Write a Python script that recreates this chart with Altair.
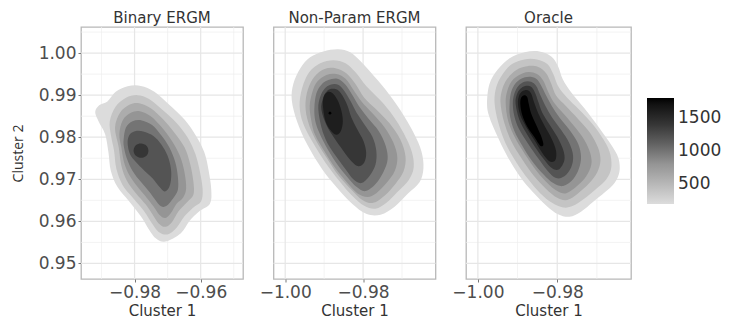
import altair as alt
import pandas as pd

TITLES = ["Binary ERGM", "Non-Param ERGM", "Oracle"]
LEVELS = [200, 400, 600, 800, 1000, 1200, 1400, 1600, 1800]

Y_DOMAIN = [0.9463, 1.0062]
X_DOMAIN_BIN = [-0.9962, -0.9472]
X_DOMAIN_NP = [-1.0030, -0.9614]
X_DOMAIN_OR = [-1.0030, -0.9614]

X_TICKS_BIN = [-0.98, -0.96]
X_MINOR_BIN = [-0.99, -0.97, -0.95]
X_TICKS_NP = [-1.00, -0.98]
X_MINOR_NP = [-0.99, -0.97]
Y_TICKS = [0.95, 0.96, 0.97, 0.98, 0.99, 1.00]
Y_MINOR = [0.955, 0.965, 0.975, 0.985, 0.995, 1.005]
LEGEND_TICKS = [500, 1000, 1500]

# ---- Binary ERGM contour polygons (x = Cluster 1, y = Cluster 2) ----
BIN_200 = [(-0.9919, 0.9860), (-0.9907, 0.9876), (-0.9882, 0.9885), (-0.9857, 0.9908), (-0.9821, 0.9921),
           (-0.9781, 0.9922), (-0.9740, 0.9908), (-0.9695, 0.9877), (-0.9649, 0.9842), (-0.9614, 0.9803),
           (-0.9589, 0.9764), (-0.9576, 0.9721), (-0.9568, 0.9675), (-0.9572, 0.9642), (-0.9604, 0.9624),
           (-0.9634, 0.9601), (-0.9660, 0.9572), (-0.9707, 0.9552), (-0.9735, 0.9559), (-0.9756, 0.9580),
           (-0.9781, 0.9612), (-0.9816, 0.9647), (-0.9852, 0.9682), (-0.9872, 0.9721), (-0.9879, 0.9764),
           (-0.9889, 0.9807), (-0.9909, 0.9838)]
BIN_400 = [(-0.9875, 0.9838), (-0.9857, 0.9873), (-0.9826, 0.9894), (-0.9791, 0.9900), (-0.9756, 0.9891),
           (-0.9715, 0.9865), (-0.9673, 0.9834), (-0.9639, 0.9799), (-0.9616, 0.9760), (-0.9602, 0.9717),
           (-0.9594, 0.9675), (-0.9599, 0.9647), (-0.9624, 0.9632), (-0.9649, 0.9612), (-0.9673, 0.9585),
           (-0.9700, 0.9569), (-0.9727, 0.9575), (-0.9747, 0.9595), (-0.9771, 0.9624), (-0.9804, 0.9655),
           (-0.9836, 0.9686), (-0.9855, 0.9725), (-0.9862, 0.9768), (-0.9871, 0.9803)]
BIN_600 = [(-0.9859, 0.9823), (-0.9844, 0.9858), (-0.9816, 0.9877), (-0.9786, 0.9881), (-0.9751, 0.9869),
           (-0.9713, 0.9842), (-0.9680, 0.9811), (-0.9649, 0.9776), (-0.9632, 0.9737), (-0.9622, 0.9694),
           (-0.9622, 0.9663), (-0.9642, 0.9645), (-0.9667, 0.9624), (-0.9687, 0.9598), (-0.9707, 0.9587),
           (-0.9727, 0.9595), (-0.9745, 0.9616), (-0.9766, 0.9640), (-0.9796, 0.9667), (-0.9824, 0.9698),
           (-0.9840, 0.9733), (-0.9848, 0.9776)]
BIN_800 = [(-0.9846, 0.9807), (-0.9836, 0.9840), (-0.9811, 0.9858), (-0.9784, 0.9862), (-0.9751, 0.9850),
           (-0.9717, 0.9823), (-0.9687, 0.9791), (-0.9663, 0.9756), (-0.9649, 0.9717), (-0.9644, 0.9679),
           (-0.9653, 0.9657), (-0.9673, 0.9642), (-0.9690, 0.9620), (-0.9707, 0.9608), (-0.9725, 0.9616),
           (-0.9743, 0.9636), (-0.9764, 0.9657), (-0.9791, 0.9682), (-0.9816, 0.9710), (-0.9832, 0.9741),
           (-0.9840, 0.9776)]
BIN_1000 = [(-0.9833, 0.9795), (-0.9826, 0.9823), (-0.9806, 0.9838), (-0.9778, 0.9840), (-0.9747, 0.9829),
            (-0.9720, 0.9805), (-0.9695, 0.9776), (-0.9677, 0.9741), (-0.9669, 0.9706), (-0.9669, 0.9675),
            (-0.9683, 0.9655), (-0.9703, 0.9637), (-0.9720, 0.9636), (-0.9737, 0.9651), (-0.9756, 0.9671),
            (-0.9781, 0.9694), (-0.9806, 0.9720), (-0.9823, 0.9749), (-0.9832, 0.9776)]
BIN_1200 = [(-0.9821, 0.9788), (-0.9814, 0.9807), (-0.9796, 0.9815), (-0.9771, 0.9813), (-0.9743, 0.9803),
            (-0.9720, 0.9784), (-0.9700, 0.9756), (-0.9690, 0.9725), (-0.9690, 0.9698), (-0.9697, 0.9679),
            (-0.9710, 0.9671), (-0.9725, 0.9682), (-0.9745, 0.9702), (-0.9771, 0.9721), (-0.9796, 0.9741),
            (-0.9814, 0.9760)]
BIN_1400 = [(-0.9803, 0.9768), (-0.9796, 0.9781), (-0.9780, 0.9785), (-0.9764, 0.9780), (-0.9758, 0.9768),
            (-0.9764, 0.9756), (-0.9780, 0.9751), (-0.9796, 0.9756)]

# ---- Non-Param ERGM contour polygons ----
NP_200 = [(-0.9983, 0.9887), (-0.9979, 0.9927), (-0.9961, 0.9964), (-0.9936, 0.9990), (-0.9902, 1.0004),
          (-0.9864, 1.0009), (-0.9833, 1.0002), (-0.9807, 0.9981), (-0.9781, 0.9955), (-0.9742, 0.9913),
          (-0.9704, 0.9864), (-0.9670, 0.9810), (-0.9650, 0.9766), (-0.9645, 0.9726), (-0.9655, 0.9693),
          (-0.9686, 0.9665), (-0.9719, 0.9635), (-0.9755, 0.9616), (-0.9792, 0.9618), (-0.9828, 0.9642),
          (-0.9864, 0.9677), (-0.9905, 0.9724), (-0.9943, 0.9782), (-0.9969, 0.9836)]
NP_400 = [(-0.9963, 0.9875), (-0.9956, 0.9918), (-0.9938, 0.9955), (-0.9910, 0.9976), (-0.9876, 0.9983),
          (-0.9845, 0.9976), (-0.9820, 0.9955), (-0.9792, 0.9922), (-0.9755, 0.9887), (-0.9724, 0.9852),
          (-0.9696, 0.9810), (-0.9675, 0.9766), (-0.9670, 0.9728), (-0.9683, 0.9698), (-0.9712, 0.9670),
          (-0.9740, 0.9644), (-0.9768, 0.9630), (-0.9797, 0.9637), (-0.9828, 0.9661), (-0.9861, 0.9696),
          (-0.9897, 0.9740), (-0.9930, 0.9789), (-0.9954, 0.9833)]
NP_600 = [(-0.9948, 0.9875), (-0.9942, 0.9913), (-0.9925, 0.9944), (-0.9899, 0.9962), (-0.9871, 0.9964),
          (-0.9843, 0.9952), (-0.9820, 0.9927), (-0.9797, 0.9894), (-0.9766, 0.9866), (-0.9732, 0.9833),
          (-0.9704, 0.9794), (-0.9691, 0.9754), (-0.9696, 0.9719), (-0.9717, 0.9689), (-0.9745, 0.9661),
          (-0.9774, 0.9644), (-0.9802, 0.9651), (-0.9830, 0.9675), (-0.9864, 0.9710), (-0.9894, 0.9752),
          (-0.9923, 0.9796), (-0.9941, 0.9836)]
NP_800 = [(-0.9937, 0.9875), (-0.9930, 0.9908), (-0.9918, 0.9932), (-0.9894, 0.9948), (-0.9869, 0.9950),
          (-0.9845, 0.9939), (-0.9825, 0.9913), (-0.9804, 0.9885), (-0.9776, 0.9857), (-0.9745, 0.9824),
          (-0.9722, 0.9787), (-0.9712, 0.9752), (-0.9719, 0.9719), (-0.9740, 0.9691), (-0.9766, 0.9667),
          (-0.9789, 0.9658), (-0.9815, 0.9667), (-0.9840, 0.9691), (-0.9871, 0.9726), (-0.9899, 0.9766),
          (-0.9923, 0.9805), (-0.9933, 0.9840)]
NP_1000 = [(-0.9925, 0.9871), (-0.9920, 0.9904), (-0.9907, 0.9925), (-0.9889, 0.9936), (-0.9866, 0.9939),
           (-0.9845, 0.9925), (-0.9828, 0.9901), (-0.9810, 0.9873), (-0.9787, 0.9845), (-0.9760, 0.9815),
           (-0.9742, 0.9780), (-0.9737, 0.9747), (-0.9748, 0.9717), (-0.9768, 0.9689), (-0.9794, 0.9672),
           (-0.9817, 0.9682), (-0.9840, 0.9705), (-0.9866, 0.9735), (-0.9892, 0.9773), (-0.9912, 0.9810),
           (-0.9923, 0.9840)]
NP_1200 = [(-0.9915, 0.9868), (-0.9910, 0.9896), (-0.9899, 0.9915), (-0.9884, 0.9925), (-0.9864, 0.9925),
           (-0.9848, 0.9910), (-0.9833, 0.9887), (-0.9817, 0.9859), (-0.9797, 0.9831), (-0.9776, 0.9801),
           (-0.9766, 0.9768), (-0.9768, 0.9735), (-0.9784, 0.9707), (-0.9804, 0.9691), (-0.9825, 0.9700),
           (-0.9845, 0.9724), (-0.9869, 0.9754), (-0.9892, 0.9787), (-0.9907, 0.9824)]
NP_1400 = [(-0.9907, 0.9866), (-0.9903, 0.9892), (-0.9894, 0.9908), (-0.9882, 0.9915), (-0.9866, 0.9913),
           (-0.9853, 0.9899), (-0.9840, 0.9875), (-0.9830, 0.9847), (-0.9815, 0.9819), (-0.9799, 0.9791),
           (-0.9792, 0.9763), (-0.9797, 0.9740), (-0.9812, 0.9731), (-0.9830, 0.9743), (-0.9851, 0.9768),
           (-0.9874, 0.9798), (-0.9894, 0.9829)]
NP_1600 = [(-0.9903, 0.9875), (-0.9901, 0.9896), (-0.9892, 0.9907), (-0.9879, 0.9905), (-0.9866, 0.9889),
           (-0.9856, 0.9864), (-0.9852, 0.9838), (-0.9857, 0.9815), (-0.9869, 0.9806), (-0.9884, 0.9817),
           (-0.9897, 0.9840)]
NP_1800 = [(-0.9889, 0.9857), (-0.9885, 0.9861), (-0.9881, 0.9857), (-0.9885, 0.9854)]

# ---- Oracle contour polygons ----
OR_200 = [(-0.9977, 0.9879), (-0.9971, 0.9926), (-0.9950, 0.9961), (-0.9920, 0.9988), (-0.9882, 1.0002),
          (-0.9845, 1.0004), (-0.9815, 0.9992), (-0.9798, 0.9969), (-0.9786, 0.9938), (-0.9765, 0.9907),
          (-0.9731, 0.9868), (-0.9693, 0.9821), (-0.9664, 0.9782), (-0.9646, 0.9751), (-0.9643, 0.9719),
          (-0.9655, 0.9692), (-0.9680, 0.9669), (-0.9710, 0.9646), (-0.9740, 0.9623), (-0.9769, 0.9611),
          (-0.9798, 0.9617), (-0.9828, 0.9638), (-0.9861, 0.9669), (-0.9895, 0.9708), (-0.9926, 0.9755),
          (-0.9954, 0.9809), (-0.9971, 0.9848)]
OR_400 = [(-0.9958, 0.9882), (-0.9954, 0.9918), (-0.9939, 0.9948), (-0.9914, 0.9974), (-0.9883, 0.9985),
          (-0.9851, 0.9985), (-0.9825, 0.9974), (-0.9810, 0.9950), (-0.9798, 0.9922), (-0.9775, 0.9894),
          (-0.9745, 0.9866), (-0.9709, 0.9829), (-0.9681, 0.9791), (-0.9666, 0.9759), (-0.9664, 0.9726),
          (-0.9676, 0.9700), (-0.9702, 0.9677), (-0.9732, 0.9654), (-0.9760, 0.9637), (-0.9785, 0.9633),
          (-0.9813, 0.9644), (-0.9843, 0.9667), (-0.9873, 0.9700), (-0.9903, 0.9740), (-0.9931, 0.9787),
          (-0.9949, 0.9836)]
OR_600 = [(-0.9943, 0.9882), (-0.9939, 0.9913), (-0.9926, 0.9939), (-0.9903, 0.9960), (-0.9876, 0.9969),
          (-0.9848, 0.9967), (-0.9828, 0.9952), (-0.9815, 0.9927), (-0.9803, 0.9899), (-0.9777, 0.9873),
          (-0.9747, 0.9843), (-0.9717, 0.9810), (-0.9697, 0.9775), (-0.9691, 0.9745), (-0.9699, 0.9717),
          (-0.9719, 0.9691), (-0.9747, 0.9667), (-0.9775, 0.9651), (-0.9800, 0.9656), (-0.9828, 0.9677),
          (-0.9858, 0.9707), (-0.9888, 0.9747), (-0.9916, 0.9791), (-0.9934, 0.9836)]
OR_800 = [(-0.9930, 0.9882), (-0.9926, 0.9910), (-0.9914, 0.9934), (-0.9896, 0.9948), (-0.9873, 0.9955),
          (-0.9851, 0.9950), (-0.9835, 0.9934), (-0.9823, 0.9908), (-0.9808, 0.9882), (-0.9785, 0.9857),
          (-0.9757, 0.9826), (-0.9732, 0.9794), (-0.9717, 0.9763), (-0.9714, 0.9735), (-0.9727, 0.9707),
          (-0.9750, 0.9684), (-0.9777, 0.9667), (-0.9800, 0.9672), (-0.9825, 0.9691), (-0.9853, 0.9721),
          (-0.9881, 0.9759), (-0.9906, 0.9798), (-0.9924, 0.9840)]
OR_1000 = [(-0.9920, 0.9882), (-0.9916, 0.9908), (-0.9906, 0.9927), (-0.9891, 0.9939), (-0.9871, 0.9944),
           (-0.9853, 0.9939), (-0.9840, 0.9922), (-0.9828, 0.9899), (-0.9813, 0.9873), (-0.9793, 0.9845),
           (-0.9767, 0.9815), (-0.9747, 0.9784), (-0.9740, 0.9754), (-0.9745, 0.9726), (-0.9760, 0.9700),
           (-0.9785, 0.9684), (-0.9810, 0.9691), (-0.9835, 0.9712), (-0.9863, 0.9743), (-0.9888, 0.9780),
           (-0.9908, 0.9815), (-0.9919, 0.9850)]
OR_1200 = [(-0.9912, 0.9880), (-0.9908, 0.9904), (-0.9898, 0.9922), (-0.9883, 0.9932), (-0.9866, 0.9932),
           (-0.9853, 0.9922), (-0.9843, 0.9901), (-0.9830, 0.9875), (-0.9813, 0.9847), (-0.9790, 0.9817),
           (-0.9770, 0.9787), (-0.9760, 0.9756), (-0.9765, 0.9728), (-0.9782, 0.9707), (-0.9803, 0.9703),
           (-0.9825, 0.9721), (-0.9848, 0.9750), (-0.9873, 0.9784), (-0.9896, 0.9819), (-0.9908, 0.9850)]
OR_1400 = [(-0.9905, 0.9880), (-0.9902, 0.9901), (-0.9893, 0.9915), (-0.9881, 0.9922), (-0.9866, 0.9920),
           (-0.9856, 0.9906), (-0.9848, 0.9885), (-0.9838, 0.9859), (-0.9820, 0.9831), (-0.9800, 0.9801),
           (-0.9785, 0.9770), (-0.9782, 0.9745), (-0.9795, 0.9724), (-0.9813, 0.9726), (-0.9833, 0.9747),
           (-0.9856, 0.9777), (-0.9878, 0.9810), (-0.9896, 0.9843)]
OR_1600 = [(-0.9899, 0.9880), (-0.9896, 0.9899), (-0.9888, 0.9909), (-0.9876, 0.9912), (-0.9866, 0.9904),
           (-0.9858, 0.9882), (-0.9848, 0.9857), (-0.9833, 0.9829), (-0.9815, 0.9798), (-0.9803, 0.9768),
           (-0.9805, 0.9745), (-0.9820, 0.9743), (-0.9838, 0.9763), (-0.9858, 0.9794), (-0.9878, 0.9824),
           (-0.9893, 0.9852)]
OR_1800 = [(-0.9893, 0.9878), (-0.9891, 0.9894), (-0.9883, 0.9900), (-0.9876, 0.9896), (-0.9872, 0.9880),
           (-0.9866, 0.9857), (-0.9853, 0.9829), (-0.9840, 0.9801), (-0.9835, 0.9782), (-0.9843, 0.9780),
           (-0.9858, 0.9801), (-0.9876, 0.9826), (-0.9888, 0.9852)]

BIN = [(200, BIN_200), (400, BIN_400), (600, BIN_600), (800, BIN_800), (1000, BIN_1000),
       (1200, BIN_1200), (1400, BIN_1400)]
NP = [(200, NP_200), (400, NP_400), (600, NP_600), (800, NP_800), (1000, NP_1000),
      (1200, NP_1200), (1400, NP_1400), (1600, NP_1600), (1800, NP_1800)]
ORC = [(200, OR_200), (400, OR_400), (600, OR_600), (800, OR_800), (1000, OR_1000),
       (1200, OR_1200), (1400, OR_1400), (1600, OR_1600), (1800, OR_1800)]

CSCALE = alt.Scale(domain=[200, 800, 1400, 1800],
                   range=["#dcdcdc", "#959595", "#363636", "#000000"])
LEGEND = alt.Legend(title=None, orient="none", direction="vertical", legendX=566, legendY=71,
                    gradientLength=106, gradientThickness=27, values=LEGEND_TICKS, format="d",
                    labelFont="DejaVu Sans", labelFontSize=17, labelColor="#333333", labelOffset=4,
                    gradientStrokeWidth=0)

PANEL_H = 252


def frame(contours):
    rows = []
    for level, pts in contours:
        for i, (x, y) in enumerate(pts):
            rows.append({"level": level, "i": i, "x": x, "y": y})
    return pd.DataFrame(rows)


def panel(title, contours, xdom, xticks, xminor, width, first):
    xs = alt.Scale(domain=xdom, nice=False, zero=False)
    ys = alt.Scale(domain=Y_DOMAIN, nice=False, zero=False)
    X = alt.X("x:Q", scale=xs, axis=alt.Axis(values=xticks, format=".2f", title="Cluster 1"))
    if first:
        Y = alt.Y("y:Q", scale=ys, axis=alt.Axis(values=Y_TICKS, format=".2f", title="Cluster 2",
                                                  titleFont="Open Sans", titleFontSize=14,
                                                  titlePadding=13))
    else:
        Y = alt.Y("y:Q", scale=ys, axis=None)
    layers = [
        alt.Chart(pd.DataFrame({"x": xminor})).mark_rule(color="#eeeeee", strokeWidth=0.7).encode(x=X),
        alt.Chart(pd.DataFrame({"y": Y_MINOR})).mark_rule(color="#eeeeee", strokeWidth=0.7).encode(y=Y),
        alt.Chart(pd.DataFrame({"x": xticks})).mark_rule(color="#e6e6e6", strokeWidth=1.2).encode(x=X),
        alt.Chart(pd.DataFrame({"y": Y_TICKS})).mark_rule(color="#e6e6e6", strokeWidth=1.2).encode(y=Y),
    ]
    df = frame(contours)
    for level, _ in contours:
        sub = df[df["level"] == level]
        layers.append(
            alt.Chart(sub).mark_line(filled=True, interpolate="cardinal-closed").encode(
                x=X, y=Y, order=alt.Order("i:Q"),
                color=alt.Color("level:Q", scale=CSCALE, legend=LEGEND),
            )
        )
    return alt.layer(*layers).properties(
        width=width, height=PANEL_H,
        title=alt.TitleParams(title, font="DejaVu Sans", fontSize=15, fontWeight="normal",
                              color="#333333", offset=0, anchor="middle"),
    )


p1 = panel(TITLES[0], BIN, X_DOMAIN_BIN, X_TICKS_BIN, X_MINOR_BIN, 162, True)
p2 = panel(TITLES[1], NP, X_DOMAIN_NP, X_TICKS_NP, X_MINOR_NP, 162, False)
p3 = panel(TITLES[2], ORC, X_DOMAIN_OR, X_TICKS_NP, X_MINOR_NP, 165, False)

chart = alt.hconcat(p1, p2, p3, spacing=30.5, bounds="flush").resolve_scale(
    x="independent", y="independent", color="shared"
).properties(
    padding={"left": 2, "top": 2, "right": 0, "bottom": 0}
).configure_view(
    stroke="#b8b8b8", strokeWidth=1.3
).configure_axis(
    labelFont="DejaVu Sans", labelFontSize=17, labelColor="#4d4d4d",
    titleFont="DejaVu Sans", titleFontSize=15, titleFontWeight="normal", titleColor="#333333",
    tickColor="#777777", tickSize=3, labelPadding=2, titlePadding=3, grid=False, domain=False,
)

chart.save("out.html", embed_options={"renderer": "svg", "actions": False})
